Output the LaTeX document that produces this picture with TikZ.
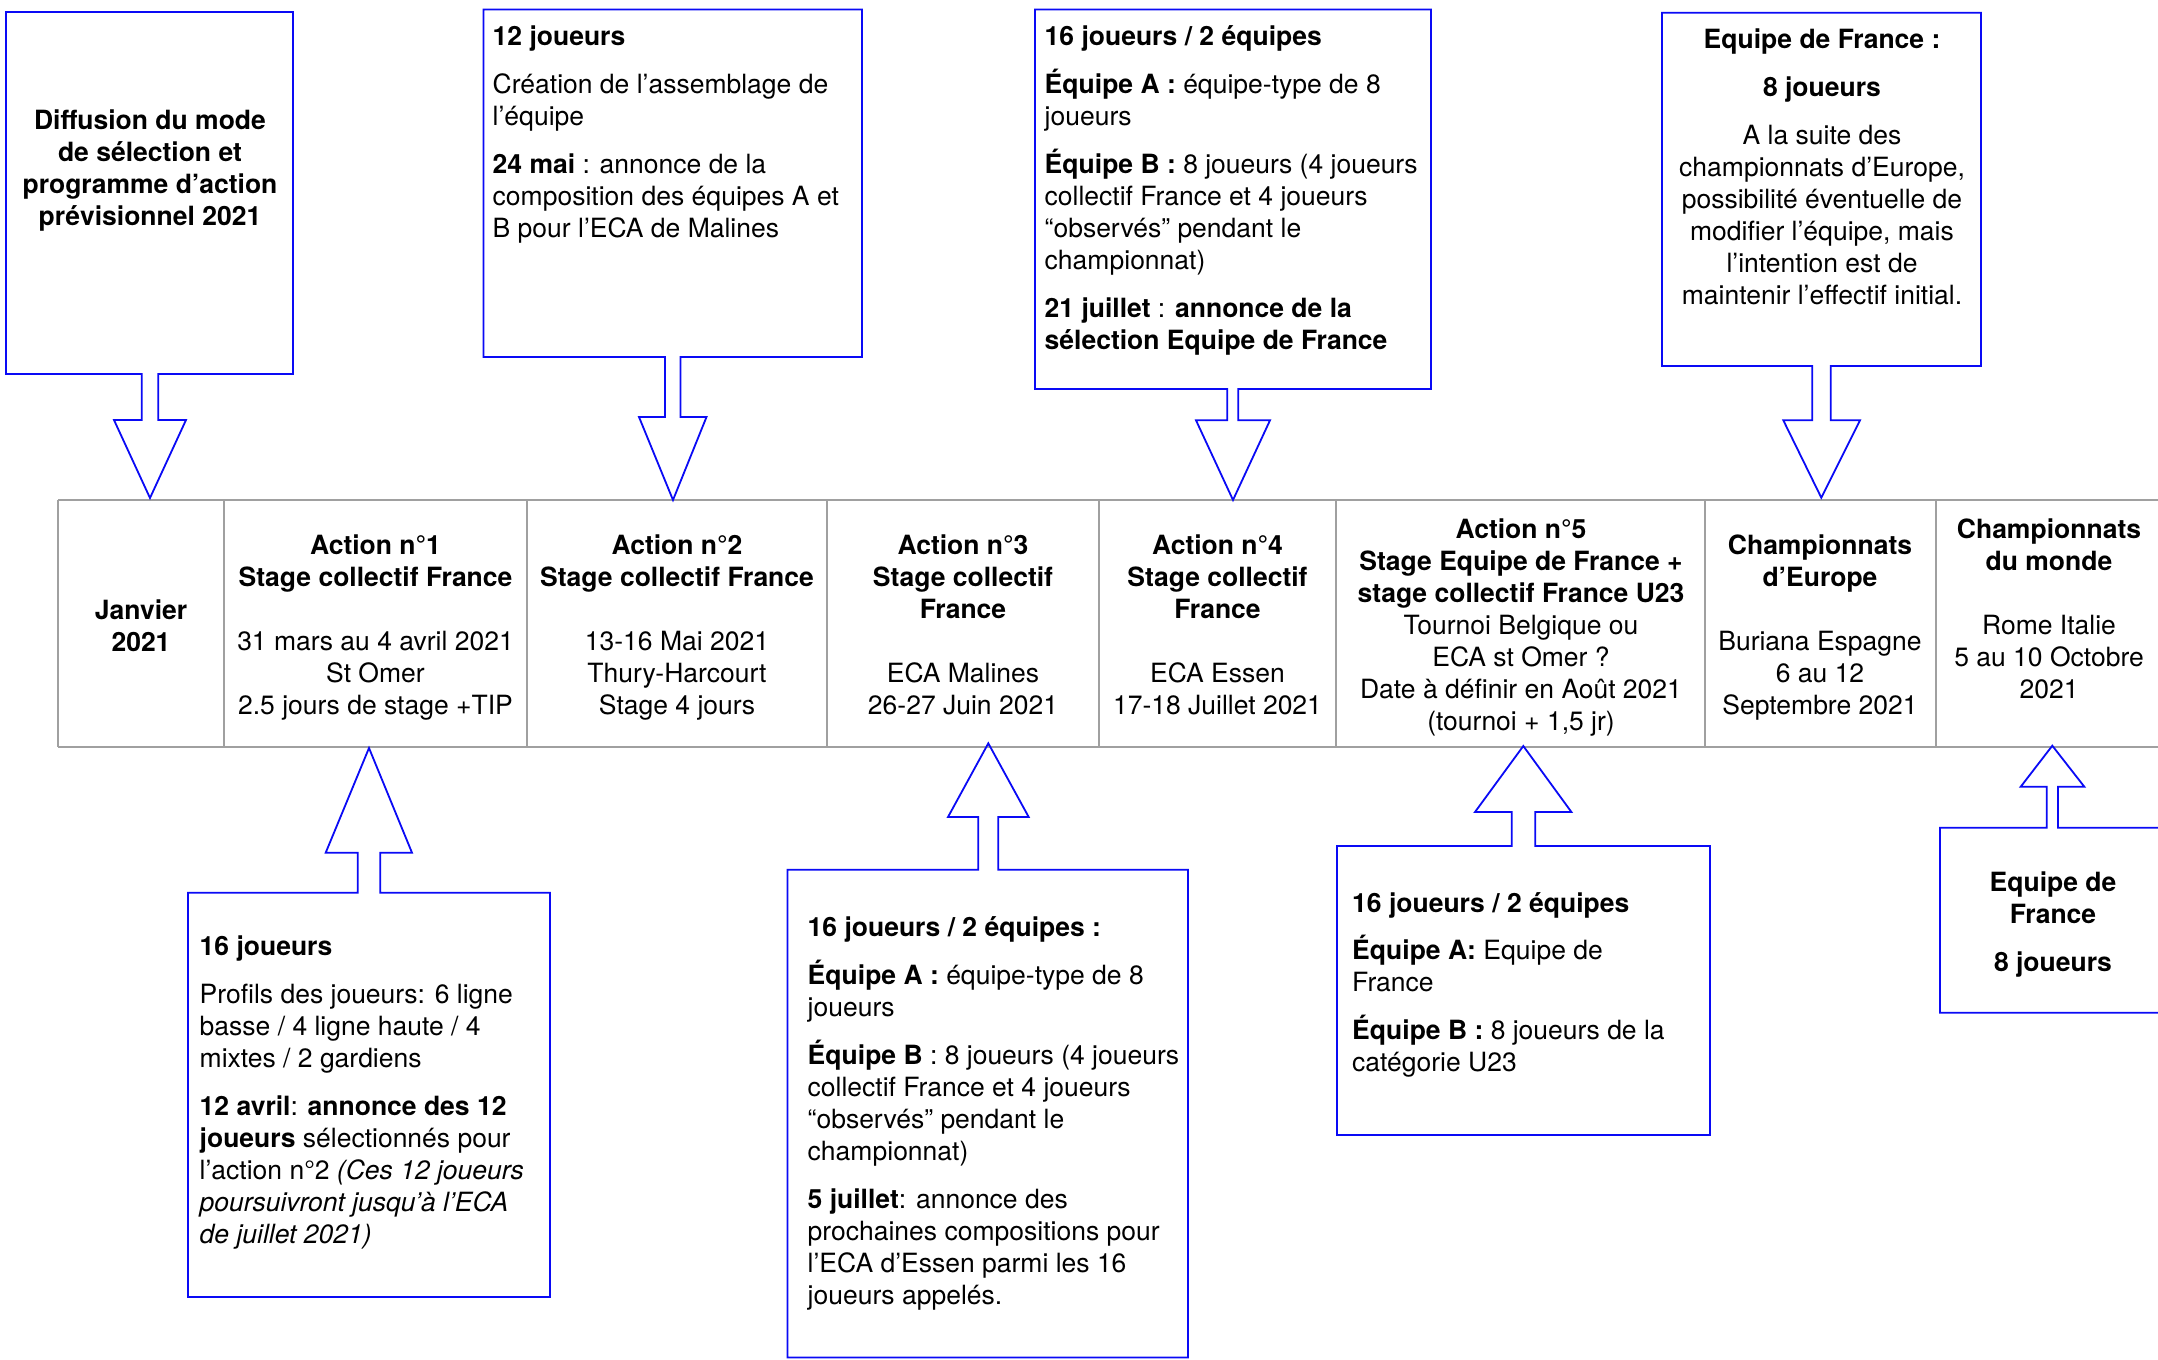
\documentclass[tikz,border=0pt]{standalone}
\usepackage{fontspec}
\setmainfont{TeX Gyre Heros}
\definecolor{cblue}{RGB}{10,10,245}
\definecolor{tgrey}{RGB}{160,160,160}
\newcommand\myst{\rule{0pt}{26pt}}
\begin{document}
\begin{tikzpicture}[x=1pt,y=-1pt,
  callout/.style={draw=cblue,line width=1.8pt,line join=miter},
  tabh/.style={draw=tgrey,line width=2.2pt},
  tabv/.style={draw=tgrey,line width=1.2pt},
  txt/.style={font=\fontsize{26.5pt}{32pt}\selectfont,inner sep=0pt,text=black},
  lt/.style={txt,align=left,anchor=north west},
  ct/.style={txt,align=center,anchor=north}]
\useasboundingbox (0,0) rectangle (2158,1360);
\fill[white] (0,0) rectangle (2158,1360);
\begin{scope}
\clip (0,0) rectangle (2158,1360);

% ---------- timeline table ----------
\draw[tabh] (58,500) -- (2170,500);
\draw[tabh] (58,747) -- (2170,747);
\foreach \x in {58,224,527,827,1099,1336,1705,1936}
  \draw[tabv] (\x,500) -- (\x,747);

\node[ct] (c0) at (141,593.5) {\myst\textbf{Janvier}\\\textbf{2021}};
\node[ct] (c1) at (375.5,528.5) {\myst\textbf{Action n°1}\\\textbf{Stage collectif France}\\[32pt]31 mars au 4 avril 2021\\St Omer\\2.5 jours de stage +TIP};
\node[ct] (c2) at (677,528.5) {\myst\textbf{Action n°2}\\\textbf{Stage collectif France}\\[32pt]13-16 Mai 2021\\Thury-Harcourt\\Stage 4 jours};
\node[ct] (c3) at (963,528.5) {\myst\textbf{Action n°3}\\\textbf{Stage collectif}\\\textbf{France}\\[32pt]ECA Malines\\26-27 Juin 2021};
\node[ct] (c4) at (1217.5,528.5) {\myst\textbf{Action n°4}\\\textbf{Stage collectif}\\\textbf{France}\\[32pt]ECA Essen\\17-18 Juillet 2021};
\node[ct] (c5) at (1521,512.5) {\myst\textbf{Action n°5}\\\textbf{Stage Equipe de France +}\\\textbf{stage collectif France U23}\\Tournoi Belgique ou\\ECA st Omer ?\\Date à définir en Août 2021\\(tournoi + 1,5 jr)};
\node[ct] (c6) at (1820,528) {\myst\textbf{Championnats}\\\textbf{d’Europe}\\[32pt]Buriana Espagne\\6 au 12\\Septembre 2021};
\node[ct] (c7) at (2049,512.5) {\myst\textbf{Championnats}\\\textbf{du monde}\\[32pt]Rome Italie\\5 au 10 Octobre\\2021};

% ---------- top callouts (arrow down) ----------
\draw[callout] (6,12) -- (293,12) -- (293,374) -- (158.3,374) -- (158.3,420) -- (186,420)
  -- (150,498) -- (114,420) -- (141.7,420) -- (141.7,374) -- (6,374) -- cycle;
\node[ct] (t1) at (150,103.5) {\myst\textbf{Diffusion du mode}\\\textbf{de sélection et}\\\textbf{programme d’action}\\\textbf{prévisionnel 2021}};

\draw[callout] (483.5,9.5) -- (862,9.5) -- (862,357) -- (680.5,357) -- (680.5,417) -- (706.5,417)
  -- (673,500) -- (639,417) -- (665,417) -- (665,357) -- (483.5,357) -- cycle;
\node[lt] (t2) at (492.5,19.5) {\myst\textbf{12 joueurs}\\[16pt]Création de l’assemblage de\\l’équipe\\[16pt]\textbf{24 mai} : annonce de la\\composition des équipes A et\\B pour l’ECA de Malines};

\draw[callout] (1035,9.5) -- (1431,9.5) -- (1431,389) -- (1238.3,389) -- (1238.3,420.3) -- (1270,420.3)
  -- (1233,500) -- (1196,420.3) -- (1227.3,420.3) -- (1227.3,389) -- (1035,389) -- cycle;
\node[lt] (t3) at (1044.5,19.5) {\myst\textbf{16 joueurs / 2 équipes}\\[16pt]\textbf{Équipe A :} équipe-type de 8\\joueurs\\[16pt]\textbf{Équipe B :} 8 joueurs (4 joueurs\\collectif France et 4 joueurs\\“observés” pendant le\\championnat)\\[16pt]\textbf{21 juillet} : \textbf{annonce de la}\\\textbf{sélection Equipe de France}};

\draw[callout] (1662,12.7) -- (1981,12.7) -- (1981,366) -- (1830.7,366) -- (1830.7,420.3) -- (1860,420.3)
  -- (1821.3,497.7) -- (1783.3,420.3) -- (1812.3,420.3) -- (1812.3,366) -- (1662,366) -- cycle;
\node[ct] (t4) at (1822,22.5) {\myst\textbf{Equipe de France :}\\[16pt]\textbf{8 joueurs}\\[16pt]A la suite des\\championnats d’Europe,\\possibilité éventuelle de\\modifier l’équipe, mais\\l’intention est de\\maintenir l’effectif initial.};

% ---------- bottom callouts (arrow up) ----------
\draw[callout] (188,1297) -- (550,1297) -- (550,892.7) -- (380.3,892.7) -- (380.3,852.7) -- (412,852.7)
  -- (369,748) -- (325.7,852.7) -- (357.7,852.7) -- (357.7,892.7) -- (188,892.7) -- cycle;
\node[lt] (b1) at (199.5,929.5) {\myst\textbf{16 joueurs}\\[16pt]Profils des joueurs: 6 ligne\\basse / 4 ligne haute / 4\\mixtes / 2 gardiens\\[16pt]\textbf{12 avril}: \textbf{annonce des 12}\\\textbf{joueurs} sélectionnés pour\\l’action n°2 \textit{(Ces 12 joueurs}\\\textit{poursuivront jusqu’à l’ECA}\\\textit{de juillet 2021)}};

\draw[callout] (787.5,1357.5) -- (1188,1357.5) -- (1188,869.7) -- (998.3,869.7) -- (998.3,817) -- (1028.7,817)
  -- (988.3,743.3) -- (948,817) -- (978.3,817) -- (978.3,869.7) -- (787.5,869.7) -- cycle;
\node[lt] (b2) at (807.5,910.5) {\myst\textbf{16 joueurs / 2 équipes :}\\[16pt]\textbf{Équipe A :} équipe-type de 8\\joueurs\\[16pt]\textbf{Équipe B} : 8 joueurs (4 joueurs\\collectif France et 4 joueurs\\“observés” pendant le\\championnat)\\[16pt]\textbf{5 juillet}: annonce des\\prochaines compositions pour\\l’ECA d’Essen parmi les 16\\joueurs appelés.};

\draw[callout] (1337,1135) -- (1710,1135) -- (1710,846) -- (1535.3,846) -- (1535.3,812) -- (1571.4,812)
  -- (1523.3,746) -- (1475,812) -- (1511.8,812) -- (1511.8,846) -- (1337,846) -- cycle;
\node[lt] (b3) at (1352,886.5) {\myst\textbf{16 joueurs / 2 équipes}\\[15pt]\textbf{Équipe A:} Equipe de\\France\\[16pt]\textbf{Équipe B :} 8 joueurs de la\\catégorie U23};

\draw[callout] (1940,1012.7) -- (2175,1012.7) -- (2175,827.7) -- (2058,827.7) -- (2058,786.7) -- (2084.3,786.7)
  -- (2052.3,745.7) -- (2020.7,786.7) -- (2046.7,786.7) -- (2046.7,827.7) -- (1940,827.7) -- cycle;
\node[ct] (b4) at (2053,865.5) {\myst\textbf{Equipe de}\\\textbf{France}\\[16pt]\textbf{8 joueurs}};
\end{scope}
\end{tikzpicture}
\end{document}
